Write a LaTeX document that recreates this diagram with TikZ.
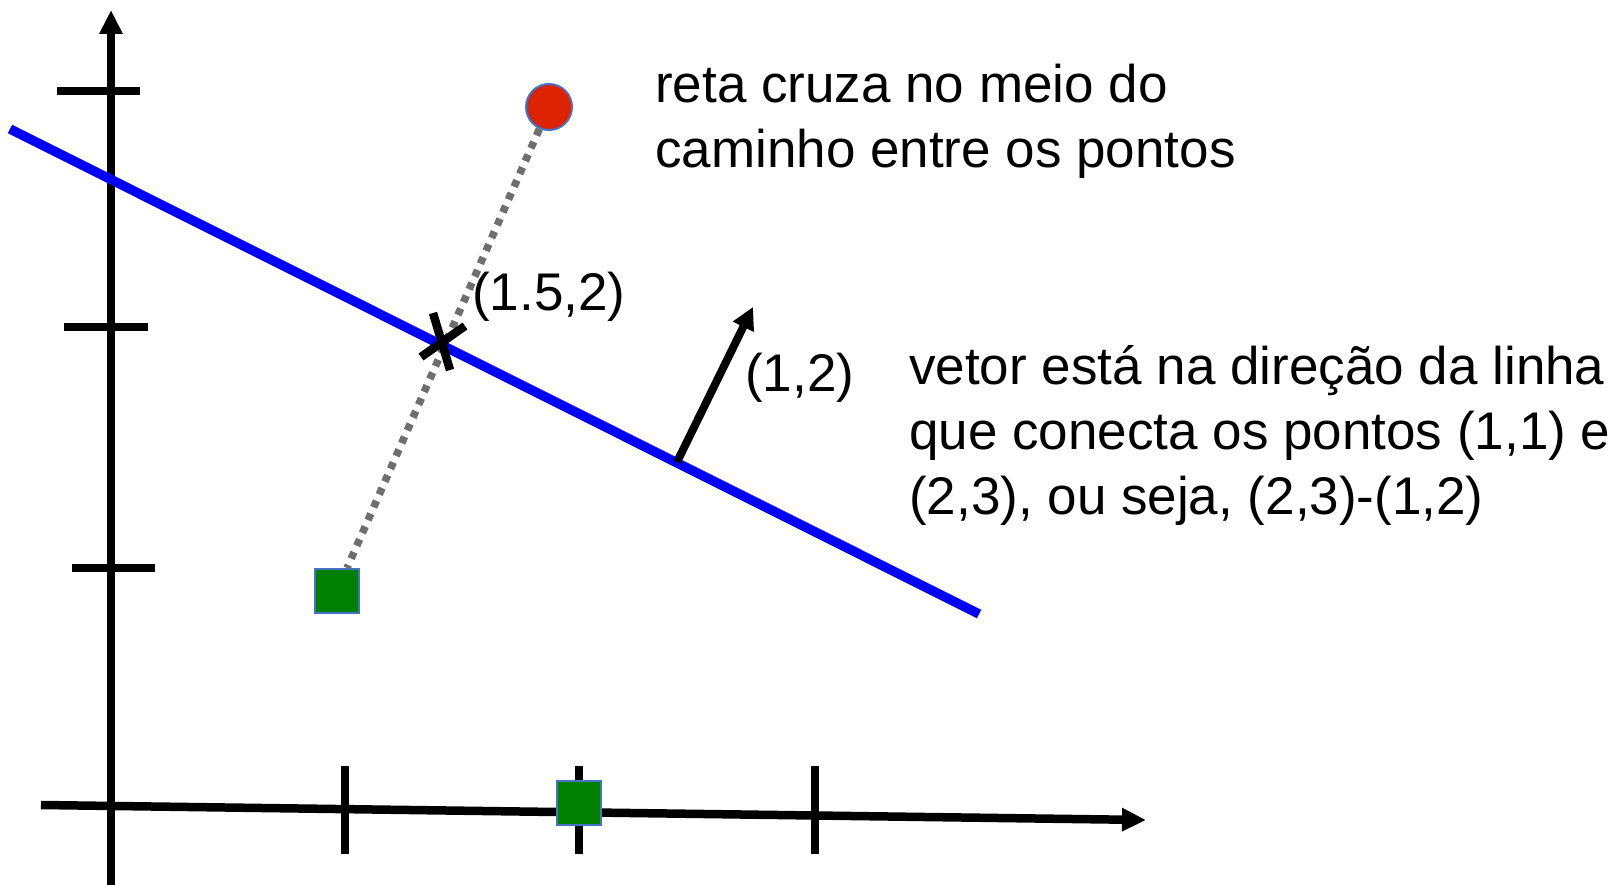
\documentclass[tikz,border=0pt]{standalone}
\usepackage{fontspec}
\setmainfont{Liberation Sans}
\usetikzlibrary{arrows.meta}

\definecolor{ptred}{HTML}{DD2200}
\definecolor{ptgreen}{HTML}{008000}
\definecolor{ptedge}{HTML}{4472C4}
\definecolor{dotgray}{HTML}{6E6E6E}

\tikzset{
  axis/.style={line width=8.5pt},
  tick/.style={line width=8.5pt},
  reta/.style={blue,line width=9.5pt},
  ptsq/.style={draw=ptedge,line width=2pt,fill=ptgreen,minimum size=44pt,inner sep=0pt},
  ptcirc/.style={circle,draw=ptedge,line width=2pt,fill=ptred,minimum size=46pt,inner sep=0pt},
  lbl/.style={inner sep=0pt,font=\fontsize{53}{65}\selectfont},
}

\begin{document}
\begin{tikzpicture}[x=1pt,y=-1pt,>={Triangle[length=24pt,width=22pt]}]
		\useasboundingbox (0,0) rectangle (1623,885);
		% eixos
		\coordinate (ybot) at (111,885);
		\coordinate (ytop) at (111,10);
		\coordinate (xleft) at (41,805);
		\coordinate (xright) at (1146,820);
		\draw[axis,->] (ybot) -- (ytop);
		\draw[axis,->] (xleft) -- (xright);
		\draw[tick] (57,91) -- (140,91);
		\draw[tick] (64,327) -- (148,327);
		\draw[tick] (72,568) -- (155,568);
		\draw[tick] (345,766) -- (345,854);
		\draw[tick] (579,766) -- (579,854);
		\draw[tick] (815,766) -- (815,854);
		% reta
		\coordinate (rA) at (10,129);
		\coordinate (rB) at (979,614);
		\draw[reta] (rA) -- (rB);
		% pontos
		\node[ptcirc] (pred) at (549,107) {};
		\node[ptsq] (pgreen) at (337,591) {};
		\node[ptsq] (pgreenx) at (579,803) {};
		\draw[dotgray,line width=7.5pt,dash pattern=on 7pt off 7pt] (pred) -- (pgreen);
		% ponto medio
		\draw[line width=8.5pt] (433,313) -- (450,370);
		\draw[line width=8.5pt] (421,357) -- (465,326);
		\node[lbl,anchor=west] (lmeio) at (472,297) {(1.5,2)};
		% vetor
		\coordinate (vbase) at (677,462);
		\coordinate (vtip) at (753,307);
		\draw[line width=8pt,-{Triangle[length=22pt,width=22pt]}] (vbase) -- (vtip);
		\node[lbl,anchor=west] (lvec) at (745,378) {(1,2)};
		% textos
		\node[lbl,anchor=north west,align=left] (tmeio) at (655,64)
			{reta cruza no meio do\\caminho entre os pontos};
		\node[lbl,anchor=north west,align=left] (tvetor) at (909,345)
			{vetor está na direção da linha\\que conecta os pontos (1,1) e\\(2,3), ou seja, (2,3)-(1,2)};
	\end{tikzpicture}
\end{document}
